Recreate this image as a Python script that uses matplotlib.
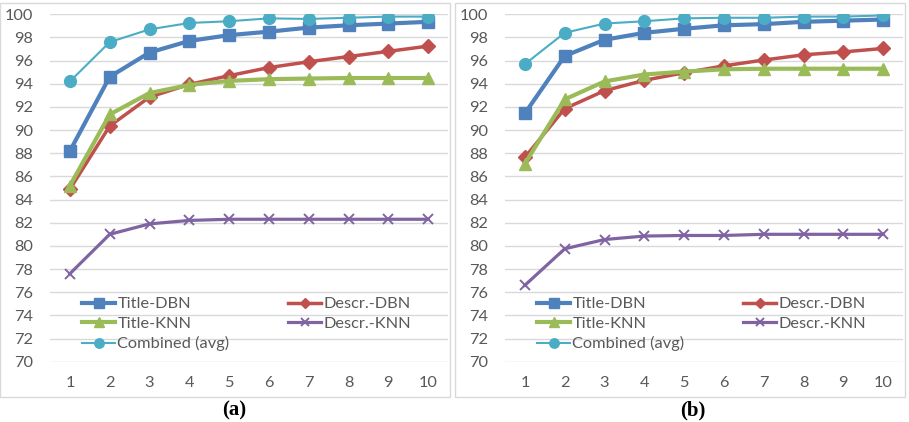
import matplotlib
matplotlib.use("Agg")
import matplotlib.pyplot as plt
from matplotlib.patches import Rectangle

plt.rcParams["font.family"] = ["Lato", "DejaVu Sans"]

K = [1, 2, 3, 4, 5, 6, 7, 8, 9, 10]
SERIES_NAMES = ["Title-DBN", "Descr.-DBN", "Title-KNN", "Descr.-KNN", "Combined (avg)"]

# panel (a)
a_title_dbn = [88.2, 94.6, 96.7, 97.7, 98.2, 98.5, 98.85, 99.05, 99.2, 99.35]
a_descr_dbn = [84.9, 90.35, 92.85, 93.95, 94.7, 95.4, 95.9, 96.35, 96.8, 97.25]
a_title_knn = [85.2, 91.35, 93.2, 93.9, 94.25, 94.4, 94.45, 94.5, 94.5, 94.5]
a_descr_knn = [77.6, 81.0, 81.9, 82.2, 82.3, 82.3, 82.3, 82.3, 82.3, 82.3]
a_combined = [94.2, 97.6, 98.7, 99.25, 99.4, 99.65, 99.6, 99.7, 99.8, 99.8]

# panel (b)
b_title_dbn = [91.45, 96.4, 97.8, 98.4, 98.75, 99.05, 99.15, 99.35, 99.45, 99.55]
b_descr_dbn = [87.65, 91.85, 93.4, 94.3, 94.95, 95.55, 96.05, 96.5, 96.75, 97.05]
b_title_knn = [87.1, 92.65, 94.2, 94.8, 95.05, 95.25, 95.3, 95.3, 95.3, 95.3]
b_descr_knn = [76.6, 79.75, 80.55, 80.85, 80.9, 80.9, 81.0, 81.0, 81.0, 81.0]
b_combined = [95.7, 98.4, 99.2, 99.4, 99.65, 99.7, 99.7, 99.8, 99.8, 99.9]

STYLES = [
    dict(color="#4F81BD", marker="s", ms=8.5, lw=3.0),
    dict(color="#C0504D", marker="D", ms=7, lw=2.5),
    dict(color="#9BBB59", marker="^", ms=8.5, lw=3.0),
    dict(color="#8064A2", marker="x", ms=7.5, lw=2.3, mew=1.4),
    dict(color="#4BACC6", marker="o", ms=8.5, lw=1.5),
]

W, H = 909, 422
TXT = "#595959"
GRID = "#d9d9d9"


def draw_panel(fig, left_px, series, label, label_x):
    fig.patches.append(Rectangle((left_px / W, (H - 397) / H), 450 / W, 394 / H,
                                 transform=fig.transFigure, fill=False,
                                 edgecolor=GRID, lw=1.0))
    ax = fig.add_axes([(left_px + 50) / W, (H - 361.7) / H, 398 / W, 347.4 / H])
    handles = []
    for name, vals, st in zip(SERIES_NAMES, series, STYLES):
        h, = ax.plot(K, vals, label=name, **st)
        handles.append(h)
    ax.set_xlim(0.5, 10.5)
    ax.set_ylim(70, 100)
    ax.set_yticks(range(70, 101, 2))
    ax.set_xticks(K)
    ax.grid(axis="y", color=GRID, lw=1.0)
    ax.set_axisbelow(True)
    for s in ax.spines.values():
        s.set_visible(False)
    ax.tick_params(length=0, labelsize=11.8, colors=TXT, pad=12)
    ax.tick_params(axis="x", pad=10)
    order = [0, 2, 4, 1, 3]
    ax.legend([handles[i] for i in order], [SERIES_NAMES[i] for i in order],
              ncol=2, loc="center left", bbox_to_anchor=(0.08, 0.108),
              frameon=False, fontsize=11.8, borderpad=0, borderaxespad=0,
              handlelength=2.05, handletextpad=0.12, labelspacing=0.32,
              columnspacing=3.55, markerscale=0.8, labelcolor=TXT)
    fig.text(label_x / W, (H - 410) / H, label, ha="center", va="center",
             fontsize=15, fontweight="bold", family="Liberation Serif")
    return ax


fig = plt.figure(figsize=(W / 100, H / 100), dpi=100)
draw_panel(fig, 0, [a_title_dbn, a_descr_dbn, a_title_knn, a_descr_knn, a_combined],
           "(a)", 234)
draw_panel(fig, 455, [b_title_dbn, b_descr_dbn, b_title_knn, b_descr_knn, b_combined],
           "(b)", 693)
fig.savefig("out.png", dpi=100)
